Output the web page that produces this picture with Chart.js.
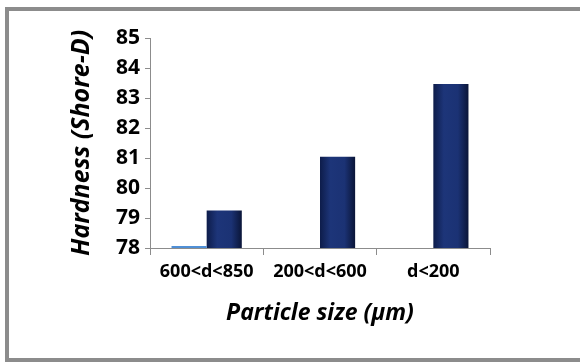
<!DOCTYPE html>
<html>
<head>
<meta charset="utf-8">
<script src="https://cdn.jsdelivr.net/npm/chart.js@4/dist/chart.umd.min.js"></script>
<style>
  html, body { margin: 0; padding: 0; background: #ffffff; overflow: hidden; }
  #frame {
    position: absolute; left: 5px; top: 7px;
    width: 600px; height: 347px;
    border: 4px solid #8c8c8c; box-sizing: content-box;
  }
  #wrap { position: absolute; left: 0; top: 0; width: 580px; height: 363px; }
</style>
</head>
<body>
<div id="frame"></div>
<div id="wrap"><canvas id="hardChart" width="580" height="363"></canvas></div>
<script>
// data
const categories = ["600<d<850", "200<d<600", "d<200"];
const lightSeries = [78.07, null, null];
const hardness = [79.25, 81.04, 83.47];
const yTicks = [78, 79, 80, 81, 82, 83, 84, 85];

const font = "'Open Sans', sans-serif";

// shade the navy bars darker at the edges, like a cylinder
const barShade = {
  id: "barShade",
  beforeDatasetsDraw(chart) {
    const ctx = chart.ctx;
    const meta = chart.getDatasetMeta(1);
    meta.data.forEach(bar => {
      const x0 = bar.x - bar.width / 2;
      const g = ctx.createLinearGradient(x0, 0, x0 + bar.width, 0);
      g.addColorStop(0, "#0d1c4a");
      g.addColorStop(0.3, "#1d3579");
      g.addColorStop(0.7, "#1b3274");
      g.addColorStop(1, "#0a1538");
      bar.options = Object.assign({}, bar.options, { backgroundColor: g });
    });
  }
};

new Chart(document.getElementById("hardChart"), {
  type: "bar",
  data: {
    labels: categories,
    datasets: [
      {
        data: lightSeries,
        backgroundColor: "#4f8fd6",
        categoryPercentage: 0.62,
        barPercentage: 1
      },
      {
        data: hardness,
        backgroundColor: (c) => "#1b3274",
        categoryPercentage: 0.62,
        barPercentage: 1
      }
    ]
  },
  options: {
    responsive: false,
    animation: false,
    layout: { padding: { left: 0, top: 38, right: 90, bottom: 0 } },
    plugins: { legend: { display: false }, tooltip: { enabled: false } },
    scales: {
      x: {
        grid: { drawOnChartArea: false, tickLength: 7, color: "#8c8c8c", offset: true },
        border: { color: "#8c8c8c" },
        ticks: {
          color: "#000000", padding: 6,
          font: { family: font, size: 18, weight: "bold" }
        },
        title: {
          display: true, text: "Particle size (µm)", color: "#000000",
          padding: 36,
          font: { family: font, size: 23, weight: "bold", style: "italic" }
        },
        afterFit(scale) { scale.height = 115; }
      },
      y: {
        min: 78, max: 85,
        afterBuildTicks(scale) { scale.ticks = yTicks.map(v => ({ value: v })); },
        grid: { drawOnChartArea: false, tickLength: 5, color: "#8c8c8c" },
        border: { color: "#8c8c8c" },
        ticks: {
          color: "#000000", padding: 5,
          font: { family: font, size: 21, weight: "bold" }
        },
        title: {
          display: true, text: "Hardness (Shore-D)", color: "#000000",
          padding: 67,
          font: { family: font, size: 25, weight: "bold", style: "italic" }
        },
        afterFit(scale) { scale.width = 150; }
      }
    }
  },
  plugins: [barShade]
});
</script>
</body>
</html>
